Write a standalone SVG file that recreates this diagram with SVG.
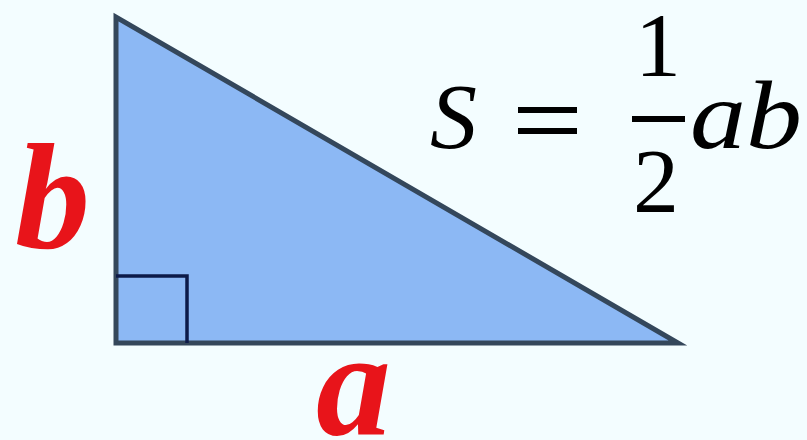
<svg xmlns="http://www.w3.org/2000/svg" width="807" height="440" viewBox="0 0 807 440">
<style>
.lbl{font-family:"Liberation Serif","Times New Roman",serif;font-weight:bold;font-style:italic;fill:#e8141a}
.math{font-family:"Liberation Serif","DejaVu Serif",serif;fill:#000}
.it{font-style:italic}
</style>
<rect width="807" height="440" fill="#f3fdff"/>
<g id="triangle">
<polygon points="116,17 116,343 678,343" fill="#8cb8f4" stroke="#34475b" stroke-width="5" stroke-linejoin="miter"/>
<polyline points="116,276 187,276 187,343" fill="none" stroke="#0c1a48" stroke-width="3.5"/>
</g>
<g id="label-b"><text class="lbl" x="15" y="248" font-size="150">b</text></g>
<g id="label-a"><text class="lbl" x="316" y="434" font-size="150">a</text></g>
<g id="formula">
<text class="math it" x="430" y="148" font-size="94">S</text>
<rect x="518" y="107" width="59" height="6" fill="#000"/>
<rect x="518" y="128" width="59" height="6" fill="#000"/>
<text class="math" x="658" y="76" font-size="92" text-anchor="middle">1</text>
<rect x="632" y="116" width="53" height="6" fill="#000"/>
<text class="math" x="656" y="212" font-size="92" text-anchor="middle">2</text>
<text class="math it" x="690" y="148" font-size="98" textLength="112" lengthAdjust="spacingAndGlyphs">ab</text>
</g>
</svg>
